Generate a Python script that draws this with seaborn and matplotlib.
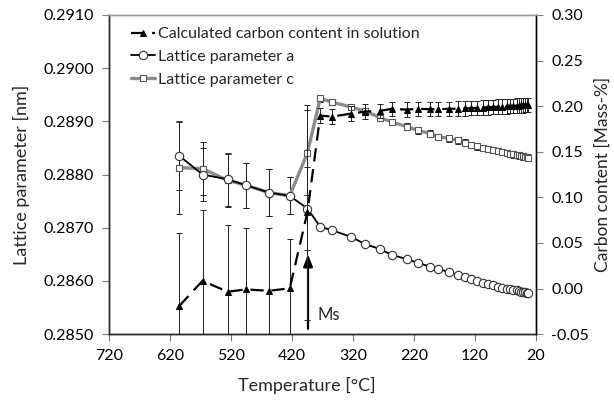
import matplotlib
matplotlib.use("Agg")
import matplotlib.pyplot as plt
import seaborn as sns
import numpy as np

# ---- data ----
temps = [605, 567, 526, 496, 458, 424, 395, 374, 354, 324, 300, 276, 257, 232,
         214, 194, 181, 162, 148, 136, 127, 116, 107, 98, 90, 82, 75, 68, 62,
         57, 52, 48, 44, 41, 38, 35, 33]
lat_a = [0.28835, 0.28800, 0.28791, 0.28780, 0.28766, 0.28760, 0.28736,
         0.28702, 0.28695, 0.28683, 0.28669, 0.28660, 0.28649, 0.28641,
         0.28634, 0.28627, 0.28622, 0.28617, 0.28611, 0.28608, 0.28604,
         0.28600, 0.28597, 0.28594, 0.28592, 0.28589, 0.28587, 0.28585,
         0.28584, 0.28583, 0.28582, 0.28581, 0.28580, 0.28579, 0.28579,
         0.28578, 0.28578]
lat_c = [0.28813, 0.28811, 0.28789, 0.28780, 0.28766, 0.28760, 0.28841,
         0.28943, 0.28936, 0.28927, 0.28919, 0.28907, 0.28899, 0.28890,
         0.28883, 0.28877, 0.28871, 0.28868, 0.28864, 0.28860, 0.28856,
         0.28853, 0.28850, 0.28848, 0.28846, 0.28844, 0.28842, 0.28840,
         0.28839, 0.28838, 0.28837, 0.28836, 0.28835, 0.28834, 0.28833,
         0.28833, 0.28832]
carbon = [-0.019, 0.0085, -0.0036, -0.001, -0.0025, 0.0002, 0.0836,
          0.1896, 0.1885, 0.1918, 0.1940, 0.1948, 0.1970, 0.1962, 0.1970,
          0.1967, 0.1967, 0.1970, 0.1973, 0.1975, 0.1978, 0.1980, 0.1985,
          0.1988, 0.1990, 0.1993, 0.1995, 0.1998, 0.2000, 0.2002, 0.2004,
          0.2006, 0.2008, 0.2010, 0.2011, 0.2012, 0.2014]
err_carbon = [0.080, 0.078, 0.073, 0.067, 0.069, 0.054, 0.118] + [0.008] * 30
err_a = [0.00064, 0.00050, 0.00050, 0.00042, 0.00044, 0.00035, 0.00078] + [0.00005] * 30
err_c = [0.00088, 0.00050, 0.00050, 0.00042, 0.00044, 0.00035, 0.00080] + [0.00006] * 30

labels = ["Calculated carbon content in solution", "Lattice parameter a",
          "Lattice parameter c"]
x_ticks = [720, 620, 520, 420, 320, 220, 120, 20]
left_ticks = [0.2850, 0.2860, 0.2870, 0.2880, 0.2890, 0.2900, 0.2910]
right_ticks = [-0.05, 0.00, 0.05, 0.10, 0.15, 0.20, 0.25, 0.30]

# ---- style ----
sns.set_theme(style="ticks")
plt.rcParams["font.family"] = ["Lato", "DejaVu Sans"]
plt.rcParams["axes.linewidth"] = 1.0

fig = plt.figure(figsize=(6.14, 4.04), dpi=100)
ax = fig.add_axes([0.178, 0.173, 0.695, 0.790])
ax2 = ax.twinx()

# error bars (lattice)
eb_kw = dict(fmt="none", ecolor="#222222", elinewidth=0.7, capsize=2,
             capthick=0.7, zorder=1)
ax.errorbar(temps, lat_c, yerr=err_c, **eb_kw)
ax.errorbar(temps, lat_a, yerr=err_a, **eb_kw)

sns.lineplot(x=temps, y=lat_c, ax=ax, sort=False, color="#8c8c8c",
             linewidth=2.4, marker="s", markersize=5,
             markerfacecolor="white", markeredgecolor="#555555",
             markeredgewidth=0.8, label=labels[2], zorder=3)
sns.lineplot(x=temps, y=lat_a, ax=ax, sort=False, color="black",
             linewidth=1.3, marker="o", markersize=6,
             markerfacecolor="white", markeredgecolor="#333333",
             markeredgewidth=0.8, label=labels[1], zorder=4)

# carbon on right axis
ax2.errorbar(temps, carbon, yerr=err_carbon, **eb_kw)
sns.lineplot(x=temps, y=carbon, ax=ax2, sort=False, color="black",
             linewidth=1.6, dashes=False, linestyle=(0, (6, 3.5)),
             marker="^", markersize=5, markerfacecolor="black",
             markeredgecolor="black", label=labels[0], zorder=3)

for a_ in (ax, ax2):
    if a_.get_legend() is not None:
        a_.get_legend().remove()

# axes setup
ax.set_xlim(720, 20)
ax.set_ylim(0.2850, 0.2910)
ax2.set_ylim(-0.05, 0.30)
ax.set_xticks(x_ticks)
ax.set_xticklabels([str(t) for t in x_ticks])
ax.set_yticks(left_ticks)
ax.set_yticklabels([f"{v:.4f}" for v in left_ticks])
ax2.set_yticks(right_ticks)
ax2.set_yticklabels([f"{v:.2f}" for v in right_ticks])

for a_ in (ax, ax2):
    a_.tick_params(direction="out", length=5, width=0.8, labelsize=11.5,
                   colors="black")
    a_.tick_params(axis="both", which="both", color="#7f7f7f")
ax.tick_params(axis="y", pad=6)
ax2.tick_params(axis="y", pad=6)
ax.tick_params(axis="x", pad=6)

for s in ("left", "bottom"):
    ax.spines[s].set_color("black")
ax2.spines["right"].set_color("black")
ax2.spines["top"].set_color("#9a9a9a")
ax.spines["top"].set_color("#9a9a9a")

ax.set_xlabel("Temperature [°C]", fontsize=13)
ax.xaxis.set_label_coords(0.463, -0.135)
ax.set_ylabel("Lattice parameter [nm]", fontsize=13, labelpad=10)
ax2.set_ylabel("Carbon content [Mass-%]", fontsize=12.5, labelpad=4)

# Ms arrow
ax.annotate("", xy=(394, 0.28650), xytext=(394, 0.28510),
            arrowprops=dict(arrowstyle="-|>,head_length=0.9,head_width=0.35",
                            color="black", lw=1.6,
                            mutation_scale=8, shrinkA=0, shrinkB=0),
            zorder=6)
ax.text(379, 0.28535, "Ms", fontsize=12, ha="left", va="center")

# legend
h1, l1 = ax.get_legend_handles_labels()
h2, l2 = ax2.get_legend_handles_labels()
handles = {**dict(zip(l1, h1)), **dict(zip(l2, h2))}
leg = ax2.legend([handles[k] for k in labels], labels, loc="upper left",
                 bbox_to_anchor=(0.03, 0.99), frameon=False, fontsize=11.5,
                 handlelength=1.5, handletextpad=0.2, labelspacing=0.55,
                 borderaxespad=0.15)

fig.savefig("out.png", dpi=100)
